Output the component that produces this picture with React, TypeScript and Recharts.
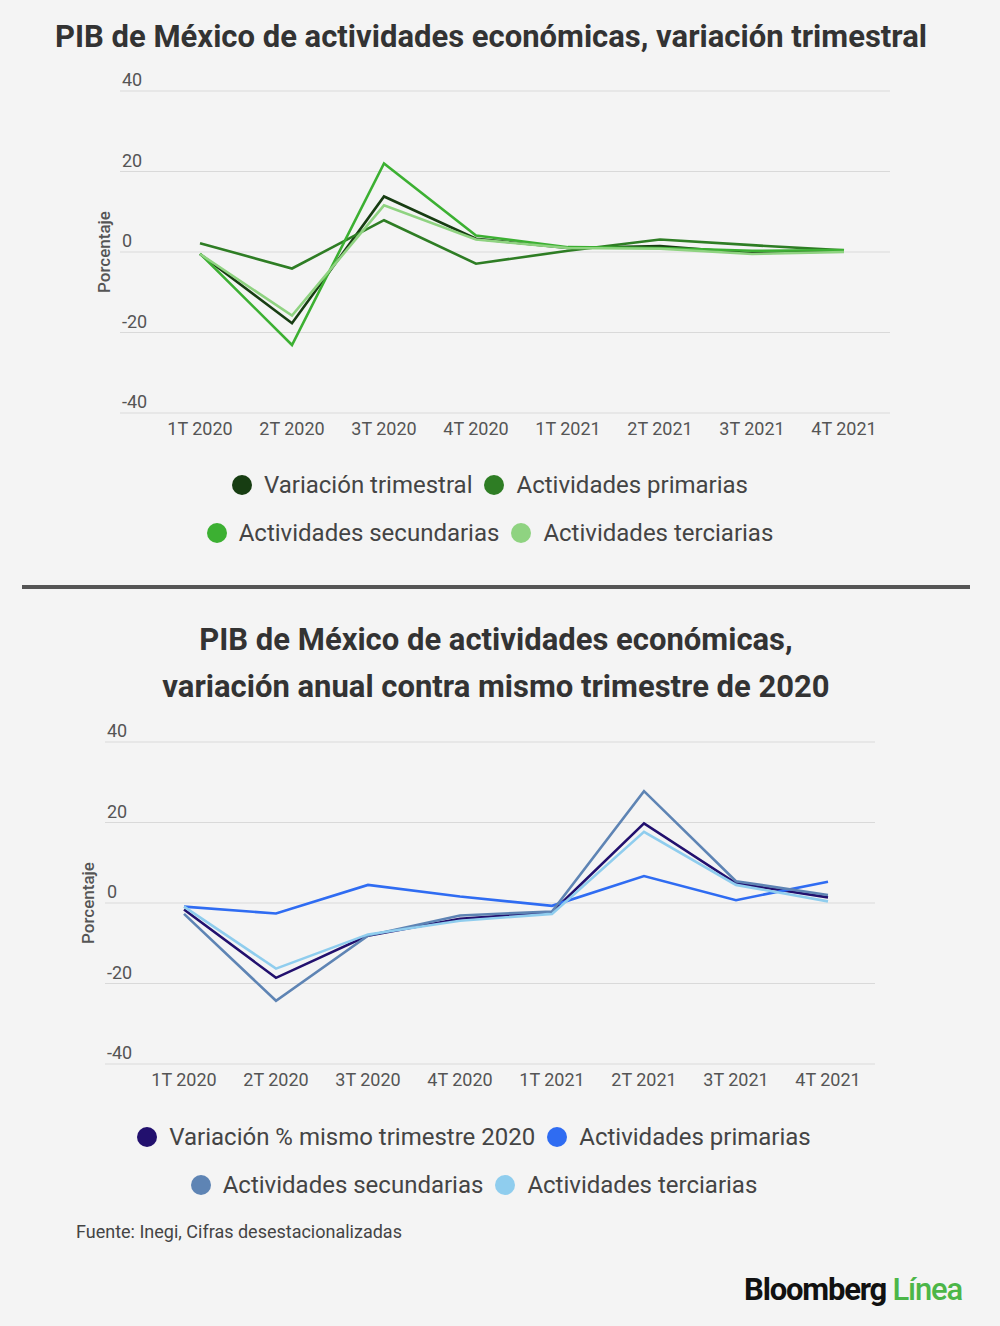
import React from 'react';
import { LineChart, Line, XAxis, YAxis, CartesianGrid } from 'recharts';

const QUARTERS = ['1T 2020', '2T 2020', '3T 2020', '4T 2020', '1T 2021', '2T 2021', '3T 2021', '4T 2021'];
const Y_TICKS = [-40, -20, 0, 20, 40];

// Variación trimestral (gráfica superior)
const TRIM_TOTAL = [-0.5, -17.7, 13.8, 3.3, 1.0, 1.5, -0.3, 0.2];
const TRIM_PRIMARIAS = [2.2, -4.1, 7.9, -2.9, 0.3, 3.1, 1.7, 0.4];
const TRIM_SECUNDARIAS = [-0.4, -23.1, 22.0, 4.1, 1.2, 1.0, 0.3, 0.5];
const TRIM_TERCIARIAS = [-0.5, -15.8, 11.6, 3.1, 1.0, 0.8, -0.5, 0.0];

// Variación anual contra mismo trimestre (gráfica inferior)
const ANUAL_TOTAL = [-1.6, -18.6, -8.1, -3.9, -2.3, 19.8, 4.9, 1.4];
const ANUAL_PRIMARIAS = [-0.9, -2.6, 4.5, 1.6, -0.7, 6.7, 0.7, 5.3];
const ANUAL_SECUNDARIAS = [-2.7, -24.3, -8.1, -3.1, -2.1, 27.8, 5.4, 2.0];
const ANUAL_TERCIARIAS = [-0.9, -16.3, -7.8, -4.4, -2.7, 17.7, 4.5, 0.4];

const TOP_SERIES = [
  { key: 'total', name: 'Variación trimestral', color: '#173d12', values: TRIM_TOTAL },
  { key: 'prim', name: 'Actividades primarias', color: '#2e7d24', values: TRIM_PRIMARIAS },
  { key: 'sec', name: 'Actividades secundarias', color: '#3cb032', values: TRIM_SECUNDARIAS },
  { key: 'ter', name: 'Actividades terciarias', color: '#8fd381', values: TRIM_TERCIARIAS },
];

const BOTTOM_SERIES = [
  { key: 'total', name: 'Variación % mismo trimestre 2020', color: '#22106e', values: ANUAL_TOTAL },
  { key: 'prim', name: 'Actividades primarias', color: '#2f6cf2', values: ANUAL_PRIMARIAS },
  { key: 'sec', name: 'Actividades secundarias', color: '#5e84b4', values: ANUAL_SECUNDARIAS },
  { key: 'ter', name: 'Actividades terciarias', color: '#8fcdee', values: ANUAL_TERCIARIAS },
];

const FONT = 'Roboto, "Noto Sans", sans-serif';

type Serie = { key: string; name: string; color: string; values: number[] };

interface PanelProps {
  series: Serie[];
  top: number;
  height: number;
  gridLeft: number;
  gridRight: number;
  plotTop: number;
  plotBottom: number;
  padLeft: number;
  padRight: number;
  labelX: number;
}

function Panel({ series, top, height, gridLeft, gridRight, plotTop, plotBottom, padLeft, padRight, labelX }: PanelProps) {
  const data = QUARTERS.map((q, i) => {
    const row: Record<string, string | number> = { name: q };
    series.forEach((s) => {
      row[s.key] = s.values[i];
    });
    return row;
  });
  const xAxisH = 30;
  const yAxisW = 2;
  // etiquetas del eje y arriba de la línea, alineadas a la izquierda
  const yTick = (props: any) => (
    <text x={gridLeft + 2} y={props.y - 5} fontSize={18} fill="#555" fontFamily={FONT} textAnchor="start">
      {props.payload.value}
    </text>
  );
  const midY = (plotTop + plotBottom) / 2;
  return (
    <div style={{ position: 'absolute', left: 0, top }}>
      <LineChart
        width={1000}
        height={height}
        data={data}
        margin={{ top: plotTop, bottom: height - plotBottom - xAxisH, left: gridLeft - yAxisW, right: 1000 - gridRight }}
      >
        <CartesianGrid horizontal vertical={false} stroke="#d9d9d9" strokeWidth={1.2} />
        <XAxis
          dataKey="name"
          height={xAxisH}
          axisLine={false}
          tickLine={false}
          padding={{ left: padLeft, right: padRight }}
          tick={{ fontSize: 18, fill: '#555', fontFamily: FONT }}
          tickMargin={3}
          interval={0}
        />
        <YAxis
          width={yAxisW}
          type="number"
          domain={[-40, 40]}
          ticks={Y_TICKS}
          interval={0}
          axisLine={false}
          tickLine={false}
          tick={yTick}
        />
        {series.map((s) => (
          <Line
            key={s.key}
            type="linear"
            dataKey={s.key}
            name={s.name}
            stroke={s.color}
            strokeWidth={2.6}
            dot={false}
            isAnimationActive={false}
          />
        ))}
      </LineChart>
      <div
        style={{
          position: 'absolute',
          left: labelX,
          top: midY,
          transform: 'translate(-50%, -50%) rotate(-90deg)',
          fontFamily: FONT,
          fontSize: 17,
          fontWeight: 500,
          color: '#555',
          whiteSpace: 'nowrap',
        }}
      >
        Porcentaje
      </div>
    </div>
  );
}

function LegendRows({ series, top, left, rows }: { series: Serie[]; top: number; left: number; rows: number[][] }) {
  return (
    <div style={{ position: 'absolute', left, top, width: 1000 }}>
      {rows.map((r, ri) => (
        <div
          key={ri}
          style={{
            display: 'flex',
            justifyContent: 'center',
            alignItems: 'center',
            height: 48,
            fontFamily: FONT,
            fontSize: 24,
            color: '#444',
          }}
        >
          {r.map((idx) => (
            <div key={idx} style={{ display: 'flex', alignItems: 'center', margin: '0 6px' }}>
              <span
                style={{
                  width: 20,
                  height: 20,
                  borderRadius: '50%',
                  background: series[idx].color,
                  display: 'inline-block',
                  marginRight: 12,
                }}
              />
              <span>{series[idx].name}</span>
            </div>
          ))}
        </div>
      ))}
    </div>
  );
}

export default function App() {
  const titleStyle: React.CSSProperties = {
    position: 'absolute',
    left: 0,
    width: 1000,
    textAlign: 'center',
    fontFamily: FONT,
    fontWeight: 700,
    fontSize: 31,
    color: '#333',
  };
  return (
    <div
      style={{
        position: 'absolute',
        left: 0,
        top: 0,
        width: 1000,
        height: 1326,
        background: '#f4f4f4',
        overflow: 'hidden',
      }}
    >
      <div style={{ ...titleStyle, top: 18, left: -9, lineHeight: '38px' }}>
        PIB de México de actividades económicas, variación trimestral
      </div>

      <Panel
        series={TOP_SERIES}
        top={0}
        height={460}
        gridLeft={120}
        gridRight={890}
        plotTop={91}
        plotBottom={413}
        padLeft={80}
        padRight={46}
        labelX={104}
      />
      <LegendRows series={TOP_SERIES} top={461} left={-10} rows={[[0, 1], [2, 3]]} />

      <div style={{ position: 'absolute', left: 22, top: 585, width: 948, height: 4, background: '#555' }} />

      <div style={{ ...titleStyle, top: 616, left: -4, lineHeight: '47px' }}>
        PIB de México de actividades económicas,
        <br />
        variación anual contra mismo trimestre de 2020
      </div>

      <Panel
        series={BOTTOM_SERIES}
        top={700}
        height={420}
        gridLeft={105}
        gridRight={875}
        plotTop={42}
        plotBottom={364}
        padLeft={79}
        padRight={47}
        labelX={88}
      />
      <LegendRows series={BOTTOM_SERIES} top={1113} left={-26} rows={[[0, 1], [2, 3]]} />

      <div
        style={{
          position: 'absolute',
          left: 76,
          top: 1221,
          fontFamily: FONT,
          fontSize: 18,
          color: '#444',
        }}
      >
        Fuente: Inegi, Cifras desestacionalizadas
      </div>

      <div
        style={{
          position: 'absolute',
          right: 38,
          top: 1271,
          fontFamily: FONT,
          fontWeight: 700,
          fontSize: 31,
          letterSpacing: -1.2,
          lineHeight: '38px',
        }}
      >
        <span style={{ color: '#111' }}>Bloomberg</span>{' '}
        <span style={{ color: '#4cb648', fontWeight: 500 }}>Línea</span>
      </div>
    </div>
  );
}
